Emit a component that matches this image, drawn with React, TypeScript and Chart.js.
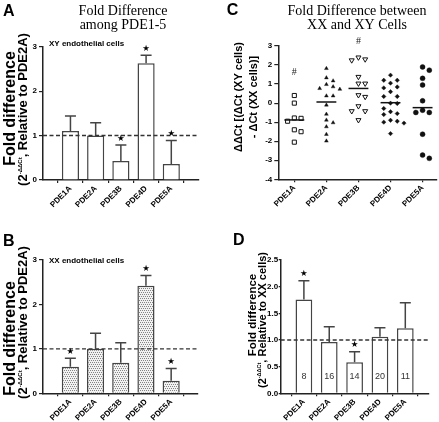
import React, { useEffect, useRef } from 'react';
import { Chart, registerables } from 'chart.js';

Chart.register(...registerables);

const SANS = '"Liberation Sans", Arial, Helvetica, sans-serif';
const SERIF = '"Liberation Serif", "Times New Roman", serif';
const SYM = '"DejaVu Sans", sans-serif';

// ---------- data ----------
const categories = ['PDE1A', 'PDE2A', 'PDE3B', 'PDE4D', 'PDE5A'];

// A: XY endothelial cells, fold difference relative to PDE2A
const xyFold = [1.1, 1.0, 0.43, 2.63, 0.36];
const xyUpperErr = [0.34, 0.29, 0.36, 0.18, 0.53];
const xySignificant = [false, false, true, true, true];

// B: XX endothelial cells, fold difference relative to PDE2A
const xxFold = [0.6, 1.0, 0.69, 2.42, 0.28];
const xxUpperErr = [0.19, 0.35, 0.45, 0.23, 0.28];
const xxSignificant = [true, false, false, true, true];

// C: ddCt between XY and XX cells (individual points)
const ddCt1A = [0.4, 0.0, -0.78, -0.8, -0.95, -1.4, -1.5, -2.05];
const ddCt2A = [1.82, 1.33, 1.17, 0.98, 0.86, 0.77, 0.73, 0.38, 0.38, -0.1, -0.58, -0.89, -1.03, -1.24, -1.64, -1.99];
const ddCt3B = [2.4, 2.3, 2.25, 1.38, 1.03, 1.03, 0.42, 0.33, -0.16, -0.42, -0.42, -0.89];
const ddCt4D = [1.47, 1.2, 1.2, 1.05, 0.85, 0.8, 0.6, 0.35, 0.35, 0.0, -0.02, -0.28, -0.45, -0.55, -0.6, -0.9, -0.95, -1.0, -1.05, -1.6];
const ddCt5A = [1.9, 1.73, 1.3, 0.95, 0.12, -0.37, -0.49, -0.49, -1.63, -2.73, -2.9];
const ddCtHash = [1.62, null, 3.22, null, null];

// D: fold difference XY relative to XX cells
const xyOverXx = [1.76, 0.96, 0.58, 1.06, 1.22];
const xyOverXxErr = [0.35, 0.29, 0.2, 0.17, 0.48];
const xyOverXxSig = [true, false, true, false, false];
const cellCounts = [8, 16, 14, 20, 11];

// ---------- helpers ----------
type Seg = { t: string; size: number; bold?: boolean; family?: string; rise?: number };

function segFont(s: Seg) {
  return `${s.bold === false ? '' : 'bold '}${s.size}px ${s.family || SANS}`;
}

function drawRich(ctx: CanvasRenderingContext2D, segs: Seg[], cx: number, cy: number, rotated: boolean) {
  ctx.save();
  ctx.translate(cx, cy);
  if (rotated) ctx.rotate(-Math.PI / 2);
  ctx.textAlign = 'left';
  ctx.textBaseline = 'alphabetic';
  ctx.fillStyle = '#000';
  let total = 0;
  for (const s of segs) {
    ctx.font = segFont(s);
    total += ctx.measureText(s.t).width;
  }
  const base = segs[0].size * 0.36;
  let x = -total / 2;
  for (const s of segs) {
    ctx.font = segFont(s);
    ctx.fillText(s.t, x, base + (s.rise || 0));
    x += ctx.measureText(s.t).width;
  }
  ctx.restore();
}

function text(ctx: CanvasRenderingContext2D, t: string, x: number, y: number, font: string, align: CanvasTextAlign = 'left', color = '#000') {
  ctx.save();
  ctx.font = font;
  ctx.textAlign = align;
  ctx.textBaseline = 'alphabetic';
  ctx.fillStyle = color;
  ctx.fillText(t, x, y);
  ctx.restore();
}

function stipple(): CanvasPattern | string {
  const c = document.createElement('canvas');
  c.width = 4;
  c.height = 4;
  const g = c.getContext('2d');
  if (!g) return '#ddd';
  g.fillStyle = '#f2f2f2';
  g.fillRect(0, 0, 4, 4);
  g.fillStyle = '#858585';
  [[0, 0], [2, 0], [1, 2], [3, 2]].forEach(([px, py]) => g.fillRect(px, py, 1, 1));
  return g.createPattern(c, 'repeat') || '#ddd';
}

function swarm(values: number[], gap: number) {
  const sorted = values.slice().sort((a, b) => b - a);
  const placed: { v: number; slot: number }[] = [];
  const order = [0, 1, -1, 2, -2, 3, -3];
  for (const v of sorted) {
    let chosen = 0;
    for (const s of order) {
      if (!placed.some((q) => q.slot === s && Math.abs(q.v - v) < gap)) {
        chosen = s;
        break;
      }
    }
    placed.push({ v, slot: chosen });
  }
  return placed;
}

const mean = (a: number[]) => a.reduce((s, v) => s + v, 0) / a.length;

const AXIS = '#222';

function xCategoryScale(min: number, max: number, xH: number) {
  return {
    type: 'linear' as const,
    min,
    max,
    afterBuildTicks: (s: any) => {
      s.ticks = categories.map((_, i) => ({ value: i }));
    },
    afterFit: (s: any) => {
      s.height = xH;
    },
    ticks: {
      autoSkip: false,
      minRotation: 45,
      maxRotation: 45,
      padding: 1,
      color: '#000',
      font: { family: SANS, size: 8, weight: 'bold' as const },
      callback: (v: any) => categories[Number(v)] ?? '',
    },
    grid: { display: true, drawOnChartArea: false, drawTicks: true, tickLength: 3, color: AXIS, lineWidth: 1.2 },
    border: { display: true, color: AXIS, width: 1.5 },
  };
}

function yValueScale(min: number, max: number, step: number, yW: number, fmt: (v: number) => string, tickLen = 4, pad = 2) {
  return {
    type: 'linear' as const,
    min,
    max,
    afterFit: (s: any) => {
      s.width = yW;
    },
    ticks: {
      stepSize: step,
      padding: pad,
      color: '#000',
      font: { family: SANS, size: 8, weight: 'bold' as const },
      callback: (v: any) => fmt(Number(v)),
    },
    grid: { display: true, drawOnChartArea: false, drawTicks: true, tickLength: tickLen, color: AXIS, lineWidth: 1.2 },
    border: { display: true, color: AXIS, width: 1.5 },
  };
}

type BarSpec = {
  values: number[];
  errs: number[];
  sig: boolean[];
  fill: () => CanvasPattern | string;
  yMax: number;
  yStep: number;
  fmt: (v: number) => string;
  xMin: number;
  xMax: number;
  padTop: number;
  padRight: number;
  yW: number;
  xH: number;
  barFrac: number;
  tickLen?: number;
  tickPad?: number;
  counts?: number[];
  texts: (ctx: CanvasRenderingContext2D) => void;
};

function barConfig(spec: BarSpec): any {
  const decor = {
    id: 'barDecor',
    afterDatasetsDraw(chart: any) {
      const { ctx, chartArea: a } = chart;
      const x = chart.scales.x;
      const y = chart.scales.y;
      ctx.save();
      const yr = y.getPixelForValue(1);
      ctx.strokeStyle = '#333';
      ctx.lineWidth = 1.4;
      ctx.setLineDash([4, 2.5]);
      ctx.beginPath();
      ctx.moveTo(a.left, yr);
      ctx.lineTo(a.right, yr);
      ctx.stroke();
      ctx.setLineDash([]);
      spec.values.forEach((v, i) => {
        const px = x.getPixelForValue(i);
        const y0 = y.getPixelForValue(v);
        const y1 = y.getPixelForValue(v + spec.errs[i]);
        ctx.strokeStyle = '#444';
        ctx.lineWidth = 1.5;
        ctx.beginPath();
        ctx.moveTo(px, y0);
        ctx.lineTo(px, y1);
        ctx.moveTo(px - 5.5, y1);
        ctx.lineTo(px + 5.5, y1);
        ctx.stroke();
        ctx.textAlign = 'center';
        ctx.textBaseline = 'middle';
        if (spec.sig[i]) {
          ctx.fillStyle = '#000';
          ctx.font = `8.5px ${SYM}`;
          ctx.fillText('\u2605', px, y1 - 6.5);
        }
        if (spec.counts) {
          ctx.fillStyle = '#333';
          ctx.font = `9px ${SANS}`;
          ctx.fillText(String(spec.counts[i]), px, y.getPixelForValue(0) - 17);
        }
      });
      ctx.restore();
    },
    afterDraw(chart: any) {
      spec.texts(chart.ctx);
    },
  };
  return {
    type: 'bar',
    data: {
      datasets: [
        {
          data: spec.values.map((v, i) => ({ x: i, y: v })),
          backgroundColor: spec.fill(),
          borderColor: '#444',
          borderWidth: 1.5,
          borderSkipped: 'start',
          barPercentage: spec.barFrac,
          categoryPercentage: 1,
        },
      ],
    },
    options: {
      responsive: false,
      animation: false,
      devicePixelRatio: 1,
      events: [],
      layout: { autoPadding: false, padding: { top: spec.padTop, right: spec.padRight, left: 0, bottom: 0 } },
      plugins: { legend: { display: false }, tooltip: { enabled: false } },
      scales: {
        x: xCategoryScale(spec.xMin, spec.xMax, spec.xH),
        y: yValueScale(0, spec.yMax, spec.yStep, spec.yW, spec.fmt, spec.tickLen ?? 4, spec.tickPad ?? 2),
      },
    },
    plugins: [decor],
  };
}

const supDdct = (size: number): Seg => ({ t: '-\u0394\u0394Ct', size, rise: -size * 0.9 });

function configA() {
  return barConfig({
    values: xyFold,
    errs: xyUpperErr,
    sig: xySignificant,
    fill: () => '#fff',
    yMax: 3,
    yStep: 1,
    fmt: (v) => String(v),
    xMin: -0.47,
    xMax: 4.48,
    padTop: 46.7,
    padRight: 21,
    yW: 43,
    xH: 30,
    barFrac: 0.68,
    texts: (ctx) => {
      text(ctx, 'A', 3, 15.5, `bold 16px ${SANS}`);
      text(ctx, 'Fold Difference', 123, 15, `14px ${SERIF}`, 'center');
      text(ctx, 'among PDE1-5', 123, 28.5, `14px ${SERIF}`, 'center');
      text(ctx, 'XY endothelial cells', 49, 45.5, `bold 8px ${SANS}`);
      drawRich(ctx, [{ t: 'Fold difference', size: 16 }], 9.5, 108.5, true);
      drawRich(ctx, [{ t: '(2', size: 13 }, supDdct(6), { t: ', Relative to PDE2A)', size: 13 }], 22.5, 109.5, true);
    },
  });
}

function configB() {
  return barConfig({
    values: xxFold,
    errs: xxUpperErr,
    sig: xxSignificant,
    fill: stipple,
    yMax: 3,
    yStep: 1,
    fmt: (v) => String(v),
    xMin: -0.47,
    xMax: 4.45,
    padTop: 50,
    padRight: 22,
    yW: 43,
    xH: 28.7,
    barFrac: 0.68,
    texts: (ctx) => {
      text(ctx, 'B', 3, 36, `bold 16px ${SANS}`);
      text(ctx, 'XX endothelial cells', 49, 52.8, `bold 8px ${SANS}`);
      drawRich(ctx, [{ t: 'Fold difference', size: 16 }], 9.5, 128.5, true);
      drawRich(ctx, [{ t: '(2', size: 13 }, supDdct(6), { t: ', Relative to PDE2A)', size: 13 }], 22.5, 112.5, true);
    },
  });
}

function configD() {
  return barConfig({
    values: xyOverXx,
    errs: xyOverXxErr,
    sig: xyOverXxSig,
    fill: () => '#fff',
    yMax: 2.5,
    yStep: 0.5,
    fmt: (v) => v.toFixed(1),
    xMin: -0.33,
    xMax: 4.35,
    padTop: 50,
    padRight: 10,
    yW: 60.7,
    xH: 28.7,
    barFrac: 0.66,
    tickLen: 2,
    tickPad: 0.5,
    counts: cellCounts,
    texts: (ctx) => {
      text(ctx, 'D', 13, 35, `bold 16px ${SANS}`);
      drawRich(ctx, [{ t: 'Fold difference', size: 11.5 }], 31.5, 105, true);
      drawRich(ctx, [{ t: '(2', size: 11 }, supDdct(5.5), { t: ', Relative to XX cells)', size: 11 }], 42, 110, true);
    },
  });
}

function configC(): any {
  const groups = [ddCt1A, ddCt2A, ddCt3B, ddCt4D, ddCt5A];
  const markers: any[] = [
    { pointStyle: 'rect', pointRadius: 2.9, backgroundColor: '#fff', borderColor: '#111', borderWidth: 1, pointRotation: 0 },
    { pointStyle: 'triangle', pointRadius: 2.2, backgroundColor: '#111', borderColor: '#111', borderWidth: 0.4, pointRotation: 0 },
    { pointStyle: 'triangle', pointRadius: 2.9, backgroundColor: '#fff', borderColor: '#111', borderWidth: 1, pointRotation: 180 },
    { pointStyle: 'rectRot', pointRadius: 2.2, backgroundColor: '#111', borderColor: '#111', borderWidth: 0.4, pointRotation: 0 },
    { pointStyle: 'circle', pointRadius: 2.5, backgroundColor: '#111', borderColor: '#111', borderWidth: 0.4, pointRotation: 0 },
  ];
  const datasets = groups.map((vals, i) => ({
    data: swarm(vals, 0.3).map((p) => ({ x: i + p.slot * 0.21, y: p.v })),
    showLine: false,
    ...markers[i],
  }));
  const decor = {
    id: 'scatterDecor',
    afterDatasetsDraw(chart: any) {
      const { ctx } = chart;
      const x = chart.scales.x;
      const y = chart.scales.y;
      ctx.save();
      ctx.strokeStyle = '#111';
      ctx.lineWidth = 1.5;
      groups.forEach((vals, i) => {
        const m = y.getPixelForValue(mean(vals));
        ctx.beginPath();
        ctx.moveTo(x.getPixelForValue(i - 0.31), m);
        ctx.lineTo(x.getPixelForValue(i + 0.31), m);
        ctx.stroke();
      });
      ctx.fillStyle = '#222';
      ctx.font = `10px ${SERIF}`;
      ctx.textAlign = 'center';
      ctx.textBaseline = 'middle';
      ddCtHash.forEach((h, i) => {
        if (h !== null) ctx.fillText('#', x.getPixelForValue(i), y.getPixelForValue(h));
      });
      ctx.restore();
    },
    afterDraw(chart: any) {
      const ctx = chart.ctx;
      text(ctx, 'C', 6.7, 14.5, `bold 16px ${SANS}`);
      text(ctx, 'Fold Difference between', 137, 15, `14px ${SERIF}`, 'center');
      text(ctx, 'XX and XY Cells', 137, 28.5, `14px ${SERIF}`, 'center');
      drawRich(ctx, [{ t: '\u0394\u0394Ct [(\u0394Ct (XY cells)', size: 11 }], 18.5, 97, true);
      drawRich(ctx, [{ t: '- \u0394Ct (XX cells)]', size: 11 }], 33.5, 97, true);
    },
  };
  return {
    type: 'scatter',
    data: { datasets },
    options: {
      responsive: false,
      animation: false,
      devicePixelRatio: 1,
      events: [],
      layout: { autoPadding: false, padding: { top: 46, right: 2, left: 0, bottom: 0 } },
      plugins: { legend: { display: false }, tooltip: { enabled: false } },
      scales: {
        x: xCategoryScale(-0.5, 4.45, 30.7),
        y: yValueScale(-4, 3, 1, 58.3, (v) => String(v)),
      },
    },
    plugins: [decor],
  };
}

function ChartBox(props: { left: number; top: number; width: number; height: number; make: () => any }) {
  const ref = useRef<HTMLCanvasElement>(null);
  useEffect(() => {
    if (!ref.current) return;
    const chart = new Chart(ref.current, props.make());
    return () => chart.destroy();
  }, []);
  return (
    <canvas
      ref={ref}
      width={props.width}
      height={props.height}
      style={{ position: 'absolute', left: props.left, top: props.top, width: props.width, height: props.height }}
    />
  );
}

export default function App() {
  return (
    <div style={{ position: 'fixed', left: 0, top: 0, width: 439, height: 422, background: '#fff', overflow: 'hidden' }}>
      <ChartBox left={0} top={0} width={220} height={210} make={configA} />
      <ChartBox left={220} top={0} width={219} height={210} make={configC} />
      <ChartBox left={0} top={210} width={220} height={212} make={configB} />
      <ChartBox left={220} top={210} width={219} height={212} make={configD} />
    </div>
  );
}
